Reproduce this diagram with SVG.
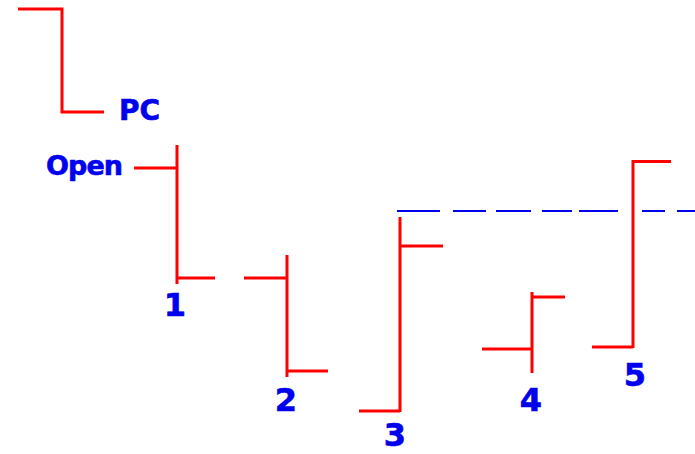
<svg xmlns="http://www.w3.org/2000/svg" width="695" height="454" viewBox="0 0 695 454">
<style>
.bar{fill:none;stroke:#ff0000;stroke-width:3;stroke-linecap:butt}
.lbl{font-family:"DejaVu Sans",Verdana,sans-serif;font-weight:bold;fill:#0000ee;stroke:#0000ee;stroke-width:0.6}
.big{font-size:27px}
.num{font-size:32px;text-anchor:middle}
.dash{stroke:#0000ee;stroke-width:2}
</style>
<rect width="695" height="454" fill="#ffffff"/>
<g id="level">
<path class="dash" d="M397 211H440M453 211H486M496 211H531M542 211H572M579 211H618M642 211H665M677 211H695"/>
</g>
<g id="barPC">
<path class="bar" d="M18 9H62V112H104"/>
<text class="lbl big" x="119" y="120" style="font-size:28px">PC</text>
</g>
<g id="bar1">
<path class="bar" d="M134 168H177M177 145V284M177 278H215"/>
<text class="lbl big" x="46" y="175" textLength="77">Open</text>
<text class="lbl num" x="175" y="316">1</text>
</g>
<g id="bar2">
<path class="bar" d="M244 278H287M287 255V377M287 371H328"/>
<text class="lbl num" x="286" y="411">2</text>
</g>
<g id="bar3">
<path class="bar" d="M359 411H400M400 217V412M400 246H443"/>
<text class="lbl num" x="395" y="446">3</text>
</g>
<g id="bar4">
<path class="bar" d="M482 349H532M532 292V373M532 297H565"/>
<text class="lbl num" x="531" y="411">4</text>
</g>
<g id="bar5">
<path class="bar" d="M592 347H633M633 160V348M633 161.5H671"/>
<text class="lbl num" x="635" y="386">5</text>
</g>
</svg>
